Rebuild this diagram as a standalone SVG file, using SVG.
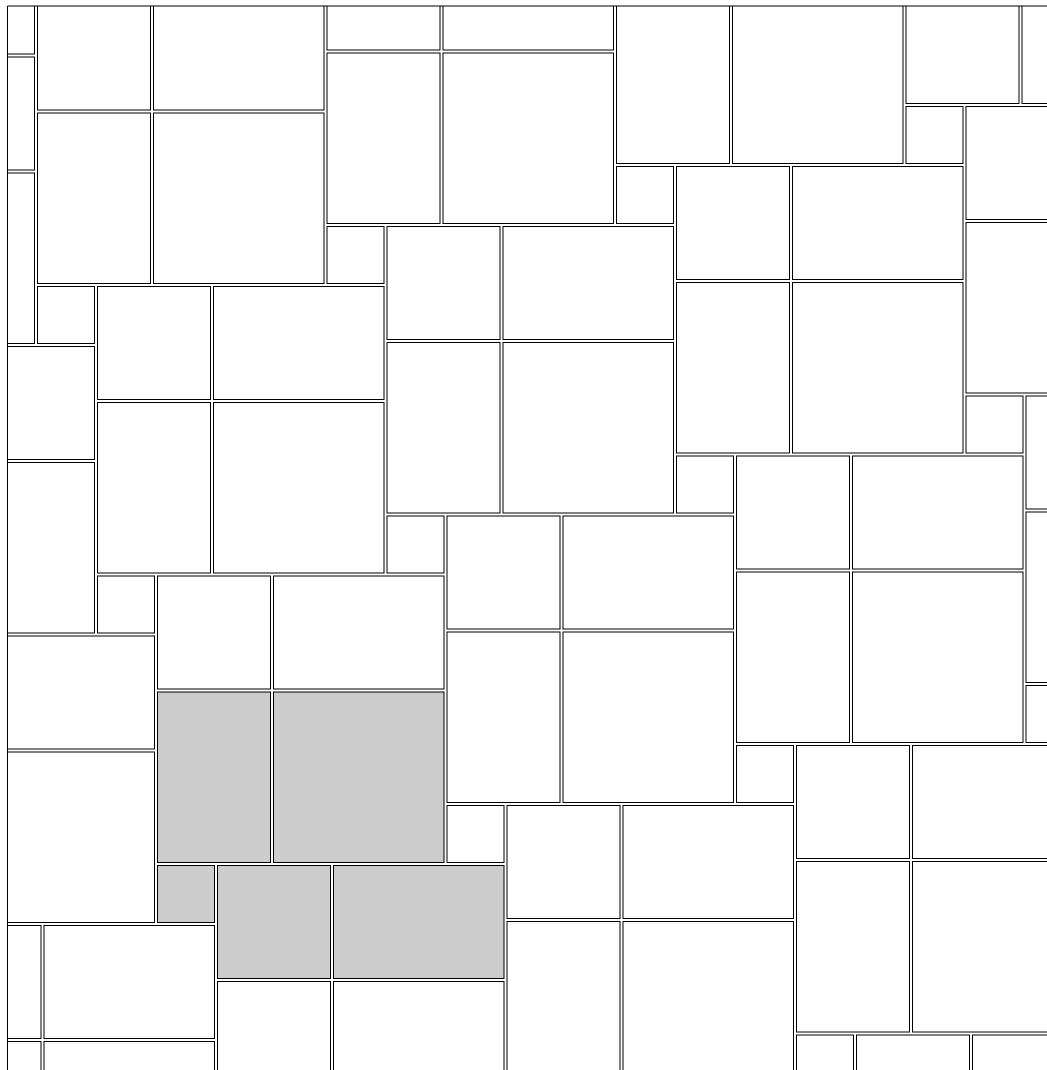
<svg xmlns="http://www.w3.org/2000/svg" xmlns:xlink="http://www.w3.org/1999/xlink" width="1047" height="1070" viewBox="0 0 1047 1070">
<style>
rect.c{fill:#ffffff;stroke:#000000;stroke-width:1}
rect.g{fill:#cccccc;stroke:#000000;stroke-width:1}
.frame{fill:none;stroke:#000000;stroke-width:1}
</style>
<defs>
<clipPath id="clip"><rect x="7.5" y="6" width="1040" height="1064"/></clipPath>
<g id="blk">
<rect class="c" x="1.5" y="1.5" width="113" height="113"/>
<rect class="c" x="117.5" y="1.5" width="170.5" height="113"/>
<rect class="c" x="1.5" y="117.5" width="113" height="170.5"/>
<rect class="c" x="117.5" y="117.5" width="170.5" height="170.5"/>
<rect class="c" x="1.5" y="291" width="57" height="57"/>
</g>
</defs>
<rect x="0" y="0" width="1047" height="1070" fill="#ffffff"/>
<g id="tiles" clip-path="url(#clip)">
<use id="b-0m1" xlink:href="#blk" transform="translate(-24,-294)"/>
<use id="b-m10" xlink:href="#blk" transform="translate(-253.5,55.5)"/>
<use id="b-00" xlink:href="#blk" transform="translate(36,-4.5)"/>
<use id="b-10" xlink:href="#blk" transform="translate(325.5,-64.5)"/>
<use id="b-20" xlink:href="#blk" transform="translate(615,-124.5)"/>
<use id="b-30" xlink:href="#blk" transform="translate(904.5,-184.5)"/>
<use id="b-m11" xlink:href="#blk" transform="translate(-193.5,345)"/>
<use id="b-01" xlink:href="#blk" transform="translate(96,285)"/>
<use id="b-11" xlink:href="#blk" transform="translate(385.5,225)"/>
<use id="b-21" xlink:href="#blk" transform="translate(675,165)"/>
<use id="b-31" xlink:href="#blk" transform="translate(964.5,105)"/>
<use id="b-m12" xlink:href="#blk" transform="translate(-133.5,634.5)"/>
<g id="b-02" transform="translate(156,574.5)">
<rect class="c" x="1.5" y="1.5" width="113" height="113"/>
<rect class="c" x="117.5" y="1.5" width="170.5" height="113"/>
<rect class="g" x="1.5" y="117.5" width="113" height="170.5"/>
<rect class="g" x="117.5" y="117.5" width="170.5" height="170.5"/>
<rect class="g" x="1.5" y="291" width="57" height="57"/>
</g>
<use id="b-12" xlink:href="#blk" transform="translate(445.5,514.5)"/>
<use id="b-22" xlink:href="#blk" transform="translate(735,454.5)"/>
<use id="b-32" xlink:href="#blk" transform="translate(1024.5,394.5)"/>
<use id="b-m13" xlink:href="#blk" transform="translate(-73.5,924)"/>
<g id="b-03" transform="translate(216,864)">
<rect class="g" x="1.5" y="1.5" width="113" height="113"/>
<rect class="g" x="117.5" y="1.5" width="170.5" height="113"/>
<rect class="c" x="1.5" y="117.5" width="113" height="170.5"/>
<rect class="c" x="117.5" y="117.5" width="170.5" height="170.5"/>
</g>
<use id="b-13" xlink:href="#blk" transform="translate(505.5,804)"/>
<use id="b-23" xlink:href="#blk" transform="translate(795,744)"/>
<use id="b-24" xlink:href="#blk" transform="translate(855,1033.5)"/>
</g>
<path id="frame" class="frame" d="M7.5,1070 V6 H1047"/>
</svg>
